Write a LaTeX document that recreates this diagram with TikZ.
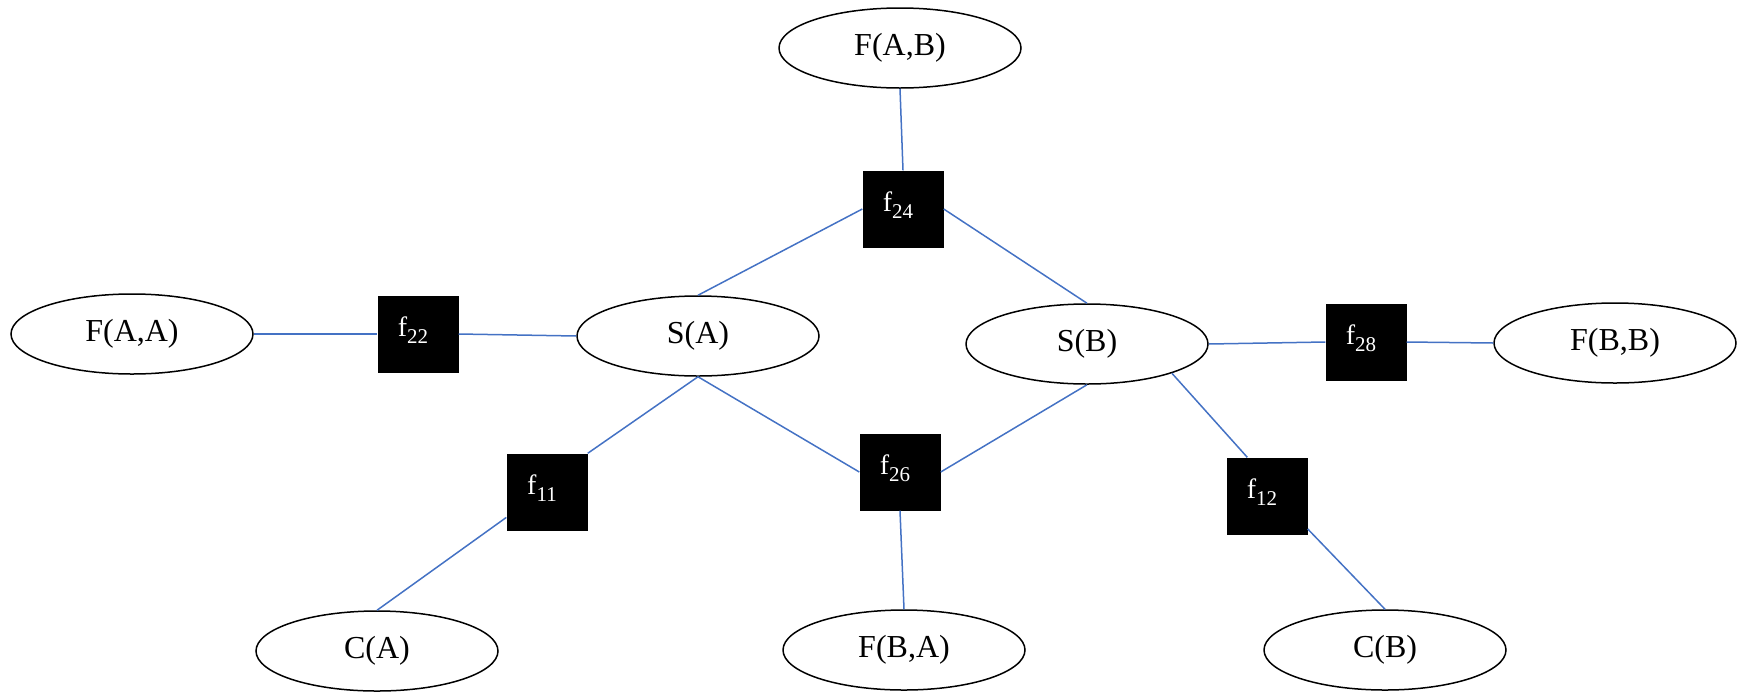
\documentclass[tikz,border=0pt]{standalone}
\usepackage{fontspec}
\setmainfont{Liberation Serif}
\usetikzlibrary{shapes.geometric}
\definecolor{linkblue}{RGB}{68,114,196}
% factor label: f with a lowered index, set a little left of and above the box centre
\newcommand{\factorlabel}[1]{f\raisebox{-7pt}{\fontsize{21}{21}\selectfont #1}\rule[-15pt]{0pt}{0pt}\hspace*{10pt}}
\tikzset{
  varnode/.style={ellipse, draw=black, line width=1.5pt, fill=white,
    minimum width=242pt, minimum height=80pt, inner sep=0pt,
    font=\fontsize{32}{32}\selectfont},
  factornode/.style={rectangle, fill=black, text=white,
    minimum width=81pt, minimum height=77pt, inner sep=0pt,
    font=\fontsize{28}{28}\selectfont},
  link/.style={draw=linkblue, line width=1.5pt}
}
\begin{document}
\begin{tikzpicture}[x=1pt,y=-1pt]
\useasboundingbox (0,0) rectangle (1744,691);
% variable nodes
\node[varnode] (FAB) at (900,48) {F(A,B)};
\node[varnode] (FAA) at (132,334) {F(A,A)};
\node[varnode] (SA) at (698,336) {S(A)};
\node[varnode] (SB) at (1087,344) {S(B)};
\node[varnode] (FBB) at (1615,343) {F(B,B)};
\node[varnode] (CA) at (377,651) {C(A)};
\node[varnode] (FBA) at (904,650) {F(B,A)};
\node[varnode] (CB) at (1385,650) {C(B)};
% factor nodes
\node[factornode] (f24) at (903,209) {\factorlabel{24}};
\node[factornode] (f22) at (418,334) {\factorlabel{22}};
\node[factornode] (f28) at (1366,342) {\factorlabel{28}};
\node[factornode] (f11) at (547,492) {\factorlabel{11}};
\node[factornode] (f26) at (900,472) {\factorlabel{26}};
\node[factornode] (f12) at (1267,496) {\factorlabel{12}};
% edges
\draw[link] (FAB.south) -- (f24.north);
\draw[link] (SA.north) -- (f24.west);
\draw[link] (f24.east) -- (SB.north);
\draw[link] (FAA.east) -- (f22.west);
\draw[link] (f22.east) -- (SA.west);
\draw[link] (SB.east) -- (f28.west);
\draw[link] (f28.east) -- (FBB.west);
\draw[link] (SA.south) -- (f11.north east);
\draw[link] (f11.212) -- (CA.north);
\draw[link] (SA.south) -- (f26.west);
\draw[link] (f26.east) -- (SB.south);
\draw[link] (f26.south) -- (FBA.north);
\draw[link] (SB.-19) -- (f12.117);
\draw[link] (f12.-39) -- (CB.north);
\end{tikzpicture}
\end{document}
